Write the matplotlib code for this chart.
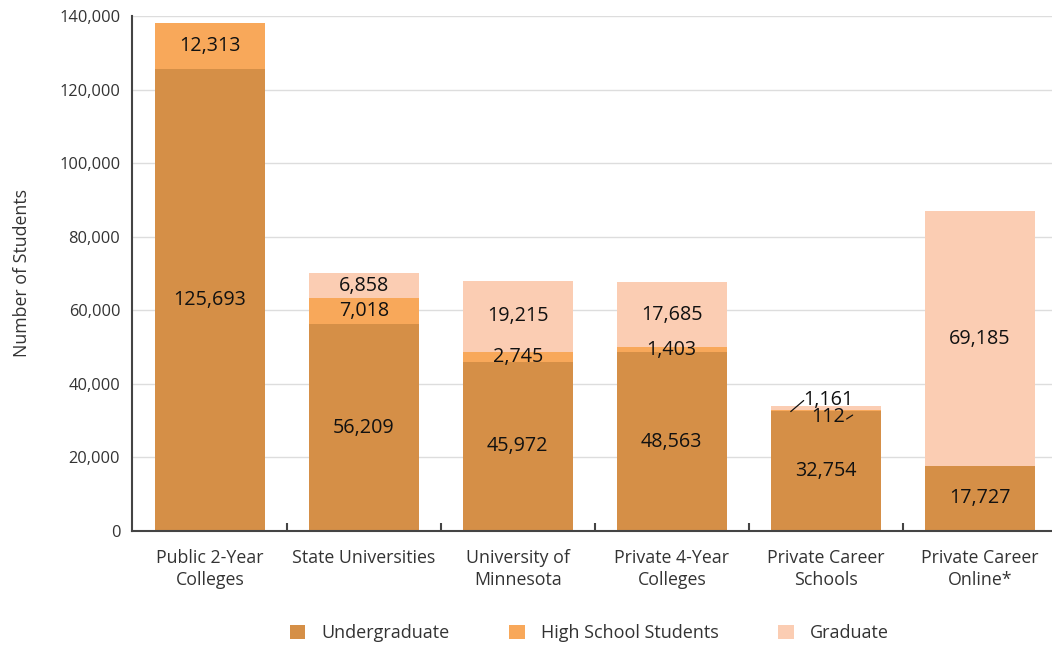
import matplotlib
matplotlib.use("Agg")
import matplotlib.pyplot as plt
from matplotlib.patches import Patch
from matplotlib.ticker import FuncFormatter, FixedLocator
import numpy as np

categories = ["Public 2-Year\nColleges", "State Universities", "University of\nMinnesota",
              "Private 4-Year\nColleges", "Private Career\nSchools", "Private Career\nOnline*"]
undergraduate = [125693, 56209, 45972, 48563, 32754, 17727]
high_school = [12313, 7018, 2745, 1403, 112, 0]
graduate = [0, 6858, 19215, 17685, 1161, 69185]
series_names = ["Undergraduate", "High School Students", "Graduate"]
colors = ["#D58F47", "#F8A85A", "#FBCDB3"]

plt.rcParams['font.family'] = ['Open Sans', 'DejaVu Sans']
txt = "#333333"

fig = plt.figure(figsize=(10.52, 6.47), dpi=100)
ax = fig.add_axes([0.1255, 0.1793, 0.8745, 0.796])

x = np.arange(len(categories))
w = 0.715
und = np.array(undergraduate)
hs = np.array(high_school)
gr = np.array(graduate)
ax.bar(x, und, w, color=colors[0], zorder=2)
ax.bar(x, hs, w, bottom=und, color=colors[1], zorder=2)
ax.bar(x, gr, w, bottom=und + hs, color=colors[2], zorder=2)

fs_bar = 14.2
fs_tick = 11.8
fs_cat = 12.8
fs_leg = 13
lead = dict(arrowstyle="-", color="#111111", lw=0.9, shrinkA=0, shrinkB=0)
for i in range(len(categories)):
    segs = [(und[i], 0), (hs[i], und[i]), (gr[i], und[i] + hs[i])]
    for j, (v, b) in enumerate(segs):
        if v == 0:
            continue
        if i == 4 and j == 1:
            # small segment: label below the bar top with a short leader line
            ax.text(x[i] + 0.019, b - 1900, f"{v:,}", ha="center", va="center",
                    fontsize=fs_bar, color="#111111", zorder=4)
            ax.annotate("", xy=(x[i] + 0.175, b + v / 2 - 1300), xytext=(x[i] + 0.136, b - 2300),
                        arrowprops=lead, zorder=4)
            continue
        if i == 4 and j == 2:
            ax.text(x[i] + 0.019, b + 2700, f"{v:,}", ha="center", va="center",
                    fontsize=fs_bar, color="#111111", zorder=4)
            ax.annotate("", xy=(x[i] - 0.227, b - 400), xytext=(x[i] - 0.143, b + 2600),
                        arrowprops=lead, zorder=4)
            continue
        ax.text(x[i], b + v / 2, f"{v:,}", ha="center", va="center", fontsize=fs_bar,
                color="#111111", zorder=3)

ax.set_xlim(-0.506, 5.47)
ax.set_ylim(0, 140000)
ax.yaxis.set_major_locator(FixedLocator(np.arange(0, 140001, 20000)))
ax.yaxis.set_major_formatter(FuncFormatter(lambda v, p: f"{int(v):,}"))
ax.grid(axis="y", color="#DDDDDD", lw=1, zorder=0)
ax.set_axisbelow(True)
ax.set_xticks(x)
ax.set_xticklabels(categories, fontsize=fs_cat, color=txt, linespacing=1.25)
ax.set_xticks(np.arange(0.5, 5.0, 1.0), minor=True)
ax.tick_params(axis="x", which="major", length=0, pad=13)
ax.tick_params(axis="x", which="minor", length=6, direction="in", width=1.5, color="#444444")
ax.tick_params(axis="y", length=0, pad=8.5, labelsize=fs_tick, labelcolor=txt)
for s in ["top", "right"]:
    ax.spines[s].set_visible(False)
for s in ["left", "bottom"]:
    ax.spines[s].set_color("#444444")
    ax.spines[s].set_linewidth(1.5)
ax.set_ylabel("Number of Students", fontsize=fs_cat, color=txt, labelpad=20)

handles = [Patch(facecolor=c, edgecolor="none") for c in colors]
fig.legend(handles, series_names, loc="center", bbox_to_anchor=(0.5604, 0.021), ncol=3,
           frameon=False, fontsize=fs_leg, handlelength=0.85, handleheight=0.85,
           handletextpad=0.9, columnspacing=3.3, labelcolor=txt)

fig.savefig("out.png", dpi=100)
